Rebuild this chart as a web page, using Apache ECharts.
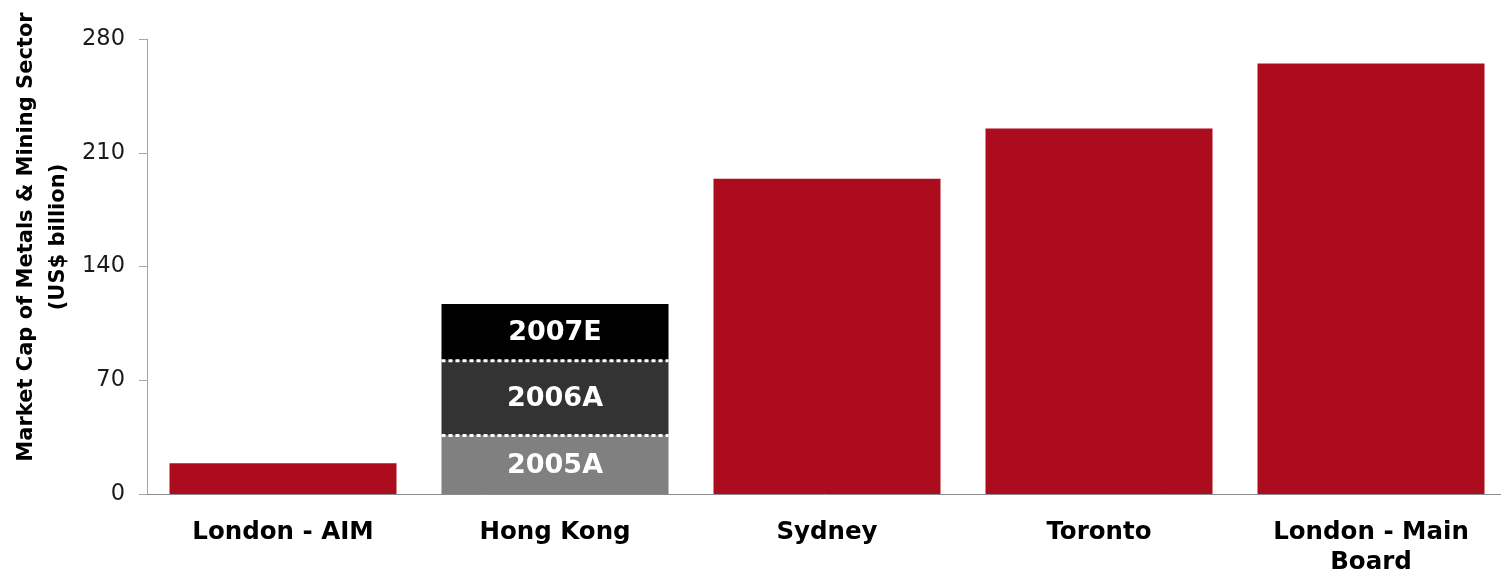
<!DOCTYPE html>
<html>
<head>
<meta charset="utf-8">
<title>Market Cap of Metals & Mining Sector</title>
<script src="https://cdn.jsdelivr.net/npm/echarts@6/dist/echarts.min.js"></script>
<style>
  html, body { margin: 0; padding: 0; background: #ffffff; }
  #chart { width: 1501px; height: 574px; }
</style>
</head>
<body>
<div id="chart"></div>
<script>
// Exchanges along the category axis
const categories = ['London - AIM', 'Hong Kong', 'Sydney', 'Toronto', 'London - Main\nBoard'];
// Sector market cap per exchange, US$ billion (Hong Kong drawn as yearly segments)
const marketCap = [19, null, 194, 225, 265];
// Hong Kong: cumulative market cap reached by each year, US$ billion
const hkYears = ['2005A', '2006A', '2007E'];
const hkLevels = [36, 82, 117];
const hkColors = ['#808080', '#333333', '#000000'];
// Value axis ticks
const yTicks = [0, 70, 140, 210, 280];

const HK_INDEX = categories.indexOf('Hong Kong');
const BAR_WIDTH = 227;
const RED = '#ad0c1e';
const FONT = '"DejaVu Sans", Verdana, sans-serif';

// Segment heights stacked on top of each other inside the Hong Kong bar
const hkSeries = hkYears.map((year, i) => {
  const prev = i === 0 ? 0 : hkLevels[i - 1];
  const data = categories.map((_, c) => c === HK_INDEX ? hkLevels[i] - prev : '-');
  return {
    name: year,
    type: 'bar',
    stack: 'cap',
    barWidth: BAR_WIDTH,
    data: data,
    itemStyle: { color: hkColors[i] },
    label: {
      show: true,
      position: 'inside',
      offset: [0, 1],
      formatter: () => year,
      color: '#ffffff',
      fontFamily: FONT,
      fontWeight: 'bold',
      fontSize: 27
    },
    z: 2
  };
});

const chart = echarts.init(document.getElementById('chart'), null, { renderer: 'canvas' });

chart.setOption({
  animation: false,
  backgroundColor: '#ffffff',
  grid: {
    left: 147, top: 39, right: -6, bottom: 80,
    containLabel: false,
    outerBoundsMode: 'none'
  },
  xAxis: {
    type: 'category',
    data: categories,
    axisLine: { show: true, lineStyle: { color: '#8c8c8c', width: 1 } },
    axisTick: { show: false },
    axisLabel: {
      interval: 0,
      margin: 24,
      color: '#000000',
      fontFamily: FONT,
      fontWeight: 'bold',
      fontSize: 24.5,
      lineHeight: 30
    }
  },
  yAxis: {
    type: 'value',
    min: yTicks[0],
    max: yTicks[yTicks.length - 1],
    interval: yTicks[1] - yTicks[0],
    axisLine: { show: true, lineStyle: { color: '#a6a6a6', width: 1 } },
    axisTick: { show: true, length: 8, lineStyle: { color: '#a6a6a6' } },
    splitLine: { show: false },
    axisLabel: {
      margin: 22,
      color: '#1a1a1a',
      fontFamily: FONT,
      fontSize: 22.5
    }
  },
  graphic: [{
    type: 'text',
    x: 43,
    y: 237,
    rotation: Math.PI / 2,
    style: {
      text: 'Market Cap of Metals & Mining Sector\n(US$ billion)',
      x: 0,
      y: 0,
      align: 'center',
      verticalAlign: 'middle',
      fill: '#000000',
      font: 'bold 21px ' + FONT,
      lineHeight: 32
    }
  }],
  series: [
    {
      name: 'Market cap',
      type: 'bar',
      stack: 'cap',
      barWidth: BAR_WIDTH,
      data: marketCap.map(v => v == null ? '-' : v),
      itemStyle: { color: RED },
      z: 2
    },
    ...hkSeries,
    {
      // White dotted dividers at each year boundary inside the Hong Kong bar
      name: 'dividers',
      type: 'custom',
      data: hkLevels.slice(0, -1).map(v => [HK_INDEX, v]),
      renderItem: function (params, api) {
        const p = api.coord([api.value(0), api.value(1)]);
        return {
          type: 'line',
          shape: { x1: p[0] - BAR_WIDTH / 2, y1: p[1], x2: p[0] + BAR_WIDTH / 2, y2: p[1] },
          style: { stroke: '#ffffff', lineWidth: 3, lineDash: [4, 3] }
        };
      },
      z: 5,
      silent: true
    }
  ]
});
</script>
</body>
</html>
